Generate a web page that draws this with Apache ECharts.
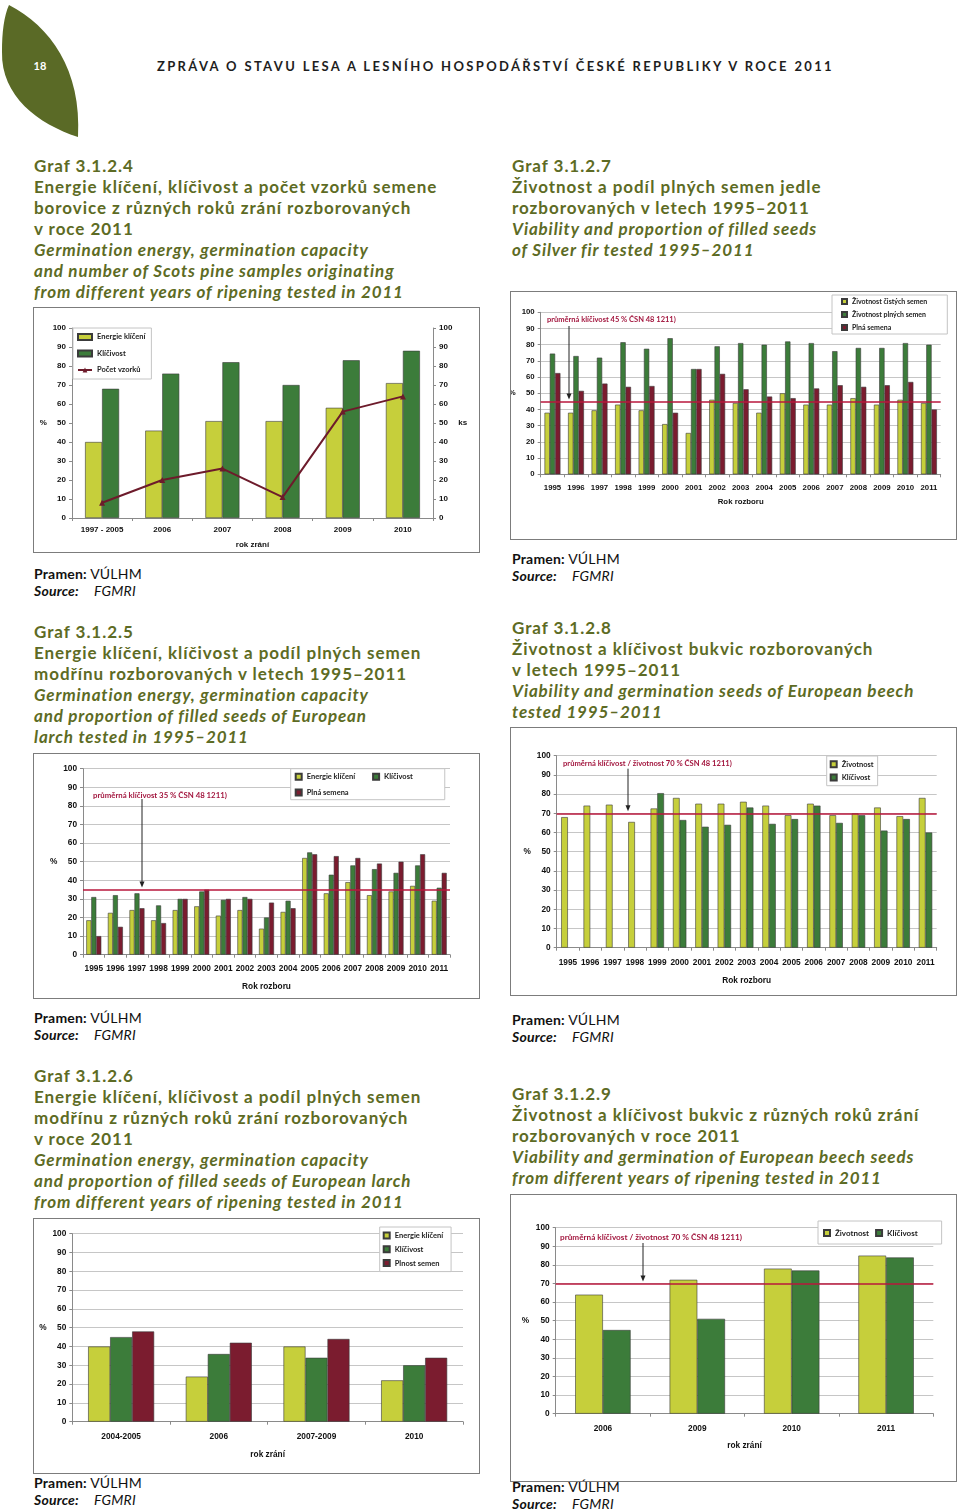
<!DOCTYPE html>
<html><head><meta charset="utf-8">
<script src="https://cdn.jsdelivr.net/npm/echarts@6/dist/echarts.min.js"></script>
<style>
body{margin:0;background:#fff;width:960px;height:1510px;position:relative;overflow:hidden;font-family:Lato,'Noto Sans',sans-serif;}
.t{position:absolute;color:#5d6b24;font-weight:bold;font-size:17px;letter-spacing:0.95px;line-height:21.1px;white-space:nowrap;}
.t i{font-style:italic;letter-spacing:0.85px;}
.src{position:absolute;color:#111;font-size:14px;letter-spacing:0.2px;line-height:17px;white-space:nowrap;}
.src b{font-weight:bold;}
.ch{position:absolute;}
.bx{position:absolute;border:1.5px solid #7c7c7c;box-sizing:border-box;pointer-events:none;}
.hdr{position:absolute;left:157px;top:58px;font-size:13px;line-height:16px;font-weight:bold;letter-spacing:2.35px;color:#1e1e1e;white-space:nowrap;}
</style></head>
<body>
<svg style="position:absolute;left:0;top:0" width="90" height="140">
<path d="M9,5 C50,26 82,70 78,137 C38,124 1,96 2,52 C2,32 4,16 9,5 Z" fill="#5a6a26"/>
<text x="40" y="70" fill="#fff" font-family="Lato" font-size="11" font-weight="bold" text-anchor="middle">18</text>
</svg>
<div class="hdr">ZPRÁVA O STAVU LESA A LESNÍHO HOSPODÁŘSTVÍ ČESKÉ REPUBLIKY V ROCE 2011</div>

<div class="t" style="left:34px;top:154.5px">Graf 3.1.2.4<br>Energie klíčení, klíčivost a počet vzorků semene<br>borovice z různých roků zrání rozborovaných<br>v roce 2011<br><i>Germination energy, germination capacity<br>and number of Scots pine samples originating<br>from different years of ripening tested in 2011</i></div>
<div class="t" style="left:34px;top:620.5px">Graf 3.1.2.5<br>Energie klíčení, klíčivost a podíl plných semen<br>modřínu rozborovaných v letech 1995–2011<br><i>Germination energy, germination capacity<br>and proportion of filled seeds of European<br>larch tested in 1995–2011</i></div>
<div class="t" style="left:34px;top:1064.5px">Graf 3.1.2.6<br>Energie klíčení, klíčivost a podíl plných semen<br>modřínu z různých roků zrání rozborovaných<br>v roce 2011<br><i>Germination energy, germination capacity<br>and proportion of filled seeds of European larch<br>from different years of ripening tested in 2011</i></div>
<div class="t" style="left:512px;top:154.5px">Graf 3.1.2.7<br>Životnost a podíl plných semen jedle<br>rozborovaných v letech 1995–2011<br><i>Viability and proportion of filled seeds<br>of Silver fir tested 1995–2011</i></div>
<div class="t" style="left:512px;top:616.5px">Graf 3.1.2.8<br>Životnost a klíčivost bukvic rozborovaných<br>v letech 1995–2011<br><i>Viability and germination seeds of European beech<br>tested 1995–2011</i></div>
<div class="t" style="left:512px;top:1082.5px">Graf 3.1.2.9<br>Životnost a klíčivost bukvic z různých roků zrání<br>rozborovaných v roce 2011<br><i>Viability and germination of European beech seeds<br>from different years of ripening tested in 2011</i></div>

<div class="src" style="left:34px;top:564.5px"><b>Pramen:</b> VÚLHM<br><b><i>Source:</i></b>&nbsp;&nbsp;&nbsp; <i>FGMRI</i></div>
<div class="src" style="left:34px;top:1008.5px"><b>Pramen:</b> VÚLHM<br><b><i>Source:</i></b>&nbsp;&nbsp;&nbsp; <i>FGMRI</i></div>
<div class="src" style="left:34px;top:1473.5px"><b>Pramen:</b> VÚLHM<br><b><i>Source:</i></b>&nbsp;&nbsp;&nbsp; <i>FGMRI</i></div>
<div class="src" style="left:512px;top:549.5px"><b>Pramen:</b> VÚLHM<br><b><i>Source:</i></b>&nbsp;&nbsp;&nbsp; <i>FGMRI</i></div>
<div class="src" style="left:512px;top:1010.5px"><b>Pramen:</b> VÚLHM<br><b><i>Source:</i></b>&nbsp;&nbsp;&nbsp; <i>FGMRI</i></div>
<div class="src" style="left:512px;top:1477.5px"><b>Pramen:</b> VÚLHM<br><b><i>Source:</i></b>&nbsp;&nbsp;&nbsp; <i>FGMRI</i></div>

<div id="c4" class="ch" style="left:33px;top:307px;width:447px;height:246px"></div>
<div class="bx" style="left:33px;top:307px;width:447px;height:246px"></div>
<div id="c7" class="ch" style="left:510px;top:291px;width:447px;height:249px"></div>
<div class="bx" style="left:510px;top:291px;width:447px;height:249px"></div>
<div id="c5" class="ch" style="left:33px;top:753px;width:447px;height:246px"></div>
<div class="bx" style="left:33px;top:753px;width:447px;height:246px"></div>
<div id="c8" class="ch" style="left:510px;top:727px;width:447px;height:269px"></div>
<div class="bx" style="left:510px;top:727px;width:447px;height:269px"></div>
<div id="c6" class="ch" style="left:33px;top:1218px;width:447px;height:256px"></div>
<div class="bx" style="left:33px;top:1218px;width:447px;height:256px"></div>
<div id="c9" class="ch" style="left:510px;top:1194px;width:447px;height:288px"></div>
<div class="bx" style="left:510px;top:1194px;width:447px;height:288px"></div>

<script>
// ---------- DATA ----------
const yTicks = [0, 100, 10]; // min, max, interval

// Graf 3.1.2.4 – borovice
const cats4 = ['1997 - 2005', '2006', '2007', '2008', '2009', '2010'];
const energie4 = [40, 46, 51, 51, 58, 71];
const klicivost4 = [68, 76, 82, 70, 83, 88];
const pocet4 = [8, 20, 26, 11, 56, 64];

// Graf 3.1.2.7 – jedle
const years = ['1995','1996','1997','1998','1999','2000','2001','2002','2003','2004','2005','2006','2007','2008','2009','2010','2011'];
const zivCistych7 = [38, 38, 39.5, 43, 39.5, 31, 25.5, 46, 44, 38, 50, 43, 43, 47, 43, 46, 44];
const zivPlnych7 = [74.5, 73, 72, 81.5, 77.5, 84, 65, 79, 81, 80, 82, 81, 76, 78, 78, 81, 80];
const plna7 = [62.5, 51.5, 56, 54, 54.5, 38, 65, 62, 52.5, 48, 47, 53, 55, 54, 55, 57, 40];
const prumer7 = 45;

// Graf 3.1.2.5 – modřín (roky rozboru)
const energie5 = [18.5, 22.5, 24, 18.5, 24, 26, 21, 24, 14, 23, 52, 33, 39, 32, 34, 37, 29];
const klicivost5 = [31, 32, 33, 26.5, 30, 34, 29.5, 31, 20, 29, 55, 43, 48, 46, 44, 48, 36];
const plna5 = [10, 15, 25, 17, 30, 35, 30, 30, 28, 25, 54, 53, 52, 49, 50, 54, 44];
const prumer5 = 35;

// Graf 3.1.2.8 – buk (roky rozboru)
const zivotnost8 = [68, 74, 74.5, 65.5, 72.5, 78, 75, 75, 76, 74, 69, 75, 69, 70, 73, 68.5, 78];
const klicivost8 = [null, null, null, null, 80.5, 66.5, 63, 64, 73, 64.5, 67, 74, 65, 69, 61, 67, 60];
const prumer8 = 70;

// Graf 3.1.2.6 – modřín (roky zrání)
const cats6 = ['2004-2005', '2006', '2007-2009', '2010'];
const energie6 = [40, 24, 40, 22];
const klicivost6 = [45, 36, 34, 30];
const plnost6 = [48, 42, 44, 34];

// Graf 3.1.2.9 – buk (roky zrání)
const cats9 = ['2006', '2009', '2010', '2011'];
const zivotnost9 = [64, 72, 78, 85];
const klicivost9 = [45, 51, 77, 84];
const prumer9 = 70;

// ---------- STYLE HELPERS ----------
const C_Y = '#c6cf3b', C_G = '#3c7c3a', C_R = '#7b1c2f', C_LINE = '#6d1b2b', C_AVG = '#b8173c', C_AVGT = '#a3173f';
const AF = 'Liberation Sans, Arial, sans-serif';
const lbl = fs => ({ fontFamily: AF, fontWeight: 'bold', fontSize: fs, color: '#111' });

function yAx(fs, split, nameGap, name) {
  return {
    type: 'value', min: yTicks[0], max: yTicks[1], interval: yTicks[2],
    name: name === undefined ? '%' : name, nameLocation: 'middle', nameRotate: 0, nameGap: nameGap,
    nameTextStyle: lbl(fs),
    axisLine: { show: true, lineStyle: { color: '#8a8a8a' } },
    axisTick: { show: true, length: 3, lineStyle: { color: '#8a8a8a' } },
    axisLabel: Object.assign(lbl(fs), { margin: 6 }),
    splitLine: { show: split, lineStyle: { color: '#c6c6c6', width: 1 } }
  };
}
function xAx(cats, fs, name, nameGap, margin) {
  return {
    type: 'category', data: cats, name: name, nameLocation: 'middle', nameGap: nameGap,
    nameTextStyle: lbl(fs),
    axisLine: { show: true, lineStyle: { color: '#8a8a8a' } },
    axisTick: { show: true, length: 3, lineStyle: { color: '#8a8a8a' } },
    axisLabel: Object.assign(lbl(fs), { margin: margin, interval: 0 })
  };
}
function bar(name, data, color, w) {
  return { type: 'bar', name: name, data: data, barWidth: w, barGap: '0%',
    itemStyle: { color: color, borderColor: '#3b3b3b', borderWidth: 0.6 }, animation: false };
}
function avgLine(v) {
  return { silent: true, symbol: ['none', 'none'], label: { show: false },
    lineStyle: { color: C_AVG, width: 1.6, type: 'solid' }, data: [{ yAxis: v }], animation: false };
}
function legendBase(o) {
  return Object.assign({
    icon: 'rect', backgroundColor: '#fff', borderColor: '#c4c4c4', borderWidth: 1,
    textStyle: { fontFamily: 'Lato, sans-serif', fontWeight: 'bold', fontSize: 7.5, color: '#222' },
    selectedMode: false
  }, o);
}
function addAnno(chart, text, tx, ty, fs, ax, ay, val) {
  const y1 = chart.convertToPixel({ yAxisIndex: 0 }, val) - 2;
  chart.setOption({ graphic: [
    { type: 'text', left: tx, top: ty, style: { text: text, fill: C_AVGT, font: 'bold ' + fs + 'px Lato, sans-serif' }, z: 10 },
    { type: 'line', shape: { x1: ax, y1: ay, x2: ax, y2: y1 - 5 }, style: { stroke: '#222', lineWidth: 1 }, z: 10 },
    { type: 'polygon', shape: { points: [[ax - 2.5, y1 - 6], [ax + 2.5, y1 - 6], [ax, y1]] }, style: { fill: '#222' }, z: 10 }
  ] });
}
const gridBase = (l, t, w, h) => ({ left: l, top: t, width: w, height: h, containLabel: false, outerBoundsMode: 'none' });

// ---------- Graf 3.1.2.4 ----------
const ch4 = echarts.init(document.getElementById('c4'));
const leg4 = legendBase({ orient: 'vertical', left: 40, top: 21, padding: [5, 6, 5, 4], itemWidth: 14, itemHeight: 6, itemGap: 8.5,
  data: [{ name: 'Energie klíčení', icon: 'rect' }, { name: 'Klíčivost', icon: 'rect' }, { name: 'Počet vzorků' }] });
delete leg4.icon;
ch4.setOption({
  animation: false,
  grid: gridBase(39, 21, 361, 190),
  legend: leg4,
  xAxis: xAx(cats4, 8, 'rok zrání', 22.5, 8),
  yAxis: [yAx(8, false, 17), Object.assign(yAx(8, false, 22, 'ks'), { position: 'right' })],
  series: [
    bar('Energie klíčení', energie4, C_Y, 17),
    bar('Klíčivost', klicivost4, C_G, 17),
    { type: 'line', name: 'Počet vzorků', data: pocet4, yAxisIndex: 1, symbol: 'triangle', symbolSize: 6,
      itemStyle: { color: C_LINE }, lineStyle: { color: C_LINE, width: 2 }, animation: false }
  ]
});

// ---------- Graf 3.1.2.7 ----------
const ch7 = echarts.init(document.getElementById('c7'));
ch7.setOption({
  animation: false,
  grid: gridBase(30.7, 21.3, 400, 162),
  legend: legendBase({ orient: 'vertical', left: 322, top: 4, padding: [3, 20, 3, 9], itemWidth: 5, itemHeight: 5, itemGap: 6,
    textStyle: { fontFamily: 'Lato, sans-serif', fontWeight: 'bold', fontSize: 7, color: '#222' } }),
  xAxis: xAx(years, 7.8, 'Rok rozboru', 24, 10),
  yAxis: yAx(7.8, true, 15),
  series: [
    Object.assign(bar('Životnost čistých semen', zivCistych7, C_Y, 5.3), { markLine: avgLine(prumer7) }),
    bar('Životnost plných semen', zivPlnych7, C_G, 5.3),
    bar('Plná semena', plna7, C_R, 5.3)
  ]
});
addAnno(ch7, 'průměrná klíčivost 45 % ČSN 48 1211)', 37, 24.5, 7.5, 59, 35, prumer7);

// ---------- Graf 3.1.2.5 ----------
const ch5 = echarts.init(document.getElementById('c5'));
ch5.setOption({
  animation: false,
  grid: gridBase(50, 15.7, 367, 186),
  legend: [
    legendBase({ orient: 'horizontal', left: 257.7, top: 15.7, padding: [4, 32, 19, 4], itemWidth: 6, itemHeight: 6, itemGap: 17,
      data: ['Energie klíčení', 'Klíčivost'] }),
    legendBase({ orient: 'horizontal', left: 261.7, top: 35.5, padding: 0, backgroundColor: 'transparent', borderWidth: 0, itemWidth: 6, itemHeight: 6,
      data: ['Plná semena'], z: 6 })
  ],
  xAxis: xAx(years, 8.3, 'Rok rozboru', 28.5, 10),
  yAxis: yAx(8.3, true, 24),
  series: [
    Object.assign(bar('Energie klíčení', energie5, C_Y, 5), { markLine: avgLine(prumer5) }),
    bar('Klíčivost', klicivost5, C_G, 5),
    bar('Plná semena', plna5, C_R, 5)
  ]
});
addAnno(ch5, 'průměrná klíčivost 35 % ČSN 48 1211)', 60, 38.5, 7.8, 109, 46, prumer5);

// ---------- Graf 3.1.2.8 ----------
const ch8 = echarts.init(document.getElementById('c8'));
ch8.setOption({
  animation: false,
  grid: gridBase(46.7, 28.7, 380, 192),
  legend: legendBase({ orient: 'vertical', left: 316.7, top: 29, padding: [4.2, 4, 4.2, 3], itemWidth: 6, itemHeight: 6, itemGap: 5.3 }),
  xAxis: xAx(years, 8.3, 'Rok rozboru', 29.5, 11),
  yAxis: yAx(8.3, true, 24.5),
  series: [
    Object.assign(bar('Životnost', zivotnost8, C_Y, 6.7), { markLine: avgLine(prumer8) }),
    bar('Klíčivost', klicivost8, C_G, 6.7)
  ]
});
addAnno(ch8, 'průměrná klíčivost / životnost 70 % ČSN 48 1211)', 53, 33, 7.6, 118, 41.7, prumer8);

// ---------- Graf 3.1.2.6 ----------
const ch6 = echarts.init(document.getElementById('c6'));
ch6.setOption({
  animation: false,
  grid: gridBase(39.3, 15.7, 390.7, 188),
  legend: legendBase({ orient: 'vertical', left: 346.7, top: 9, padding: [4.5, 8, 4.5, 3], itemWidth: 6, itemHeight: 6, itemGap: 5.8 }),
  xAxis: xAx(cats6, 8.3, 'rok zrání', 28.8, 11),
  yAxis: yAx(8.3, true, 25),
  series: [
    bar('Energie klíčení', energie6, C_Y, 22),
    bar('Klíčivost', klicivost6, C_G, 22),
    bar('Plnost semen', plnost6, C_R, 22)
  ]
});

// ---------- Graf 3.1.2.9 ----------
const ch9 = echarts.init(document.getElementById('c9'));
ch9.setOption({
  animation: false,
  grid: gridBase(45.7, 33.7, 377.6, 186),
  legend: legendBase({ orient: 'horizontal', left: 308, top: 27, padding: [8, 24, 7, 5], itemWidth: 6, itemHeight: 6, itemGap: 6,
    textStyle: { fontFamily: 'Lato, sans-serif', fontWeight: 'bold', fontSize: 8, color: '#222' } }),
  xAxis: xAx(cats9, 8.3, 'rok zrání', 28.5, 11),
  yAxis: yAx(8.3, true, 26.5),
  series: [
    Object.assign(bar('Životnost', zivotnost9, C_Y, 27.7), { markLine: avgLine(prumer9) }),
    bar('Klíčivost', klicivost9, C_G, 27.7)
  ]
});
addAnno(ch9, 'průměrná klíčivost / životnost 70 % ČSN 48 1211)', 50, 39.5, 8.2, 133, 49, prumer9);
</script>
</body></html>
